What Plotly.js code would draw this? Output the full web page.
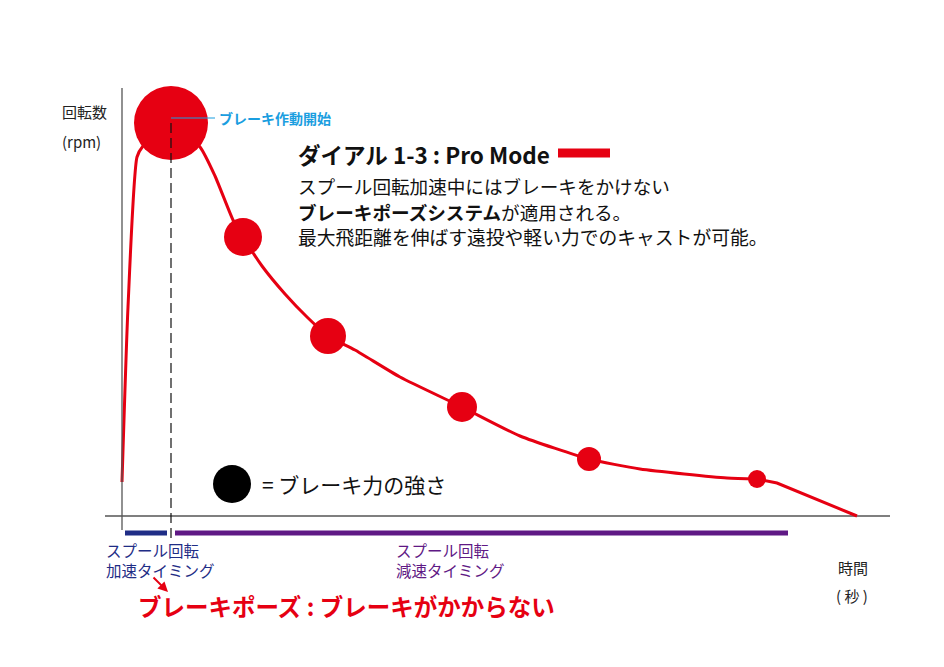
<!DOCTYPE html>
<html><head><meta charset="utf-8">
<script src="https://cdn.plot.ly/plotly-3.0.1.min.js"></script>
<style>html,body{margin:0;padding:0;background:#fff}</style>
</head><body>
<div id="chart" style="width:944px;height:667px"></div>
<script>
// Schematic: spool rotation (rpm) vs time (arbitrary units)
const curveTime = [0, 6, 15, 21, 49, 78, 93, 111, 121, 140, 163, 185, 206, 233, 278, 340, 398, 467, 518, 605, 635];
const curveRpm  = [34, 209, 359, 370, 393, 369, 340, 296, 279, 250, 222, 199, 180, 166, 139, 109, 80, 57, 47, 38, 37];
const tailTime  = [635, 655, 735];
const tailRpm   = [37, 33, 0];
const brakeTime  = [49, 121, 206, 340, 467, 635];
const brakeRpm   = [393, 279, 180, 109, 57, 37];
const brakeForce = [74, 38, 36, 30, 24, 18];
const brakeStart = 49;
const accelRange = [3, 45];
const decelRange = [53, 666];

const RED = '#e60012', BLUE = '#1f2d86', PURPLE = '#5f1985', CYAN = '#1a9ee0';
const FONT = '"Noto Sans CJK JP", "Noto Sans", sans-serif';

const traces = [
  {x: curveTime, y: curveRpm, mode: 'lines', line: {color: RED, width: 3, shape: 'spline', smoothing: 0.55}},
  {x: tailTime, y: tailRpm, mode: 'lines', line: {color: RED, width: 3}},
  {x: brakeTime, y: brakeRpm, mode: 'markers', opacity: 1, marker: {color: RED, opacity: 1, size: brakeForce, line: {width: 0}}},
  {x: [brakeStart, brakeStart], y: [brakeRpm[0], -26], mode: 'lines', line: {color: '#111', width: 1.2, dash: '10px,5px'}},
  {x: [brakeStart, 93], y: [398, 398], mode: 'lines', line: {color: CYAN, width: 1.2}},
  {x: accelRange, y: [-17, -17], mode: 'lines', line: {color: BLUE, width: 5}},
  {x: decelRange, y: [-17, -17], mode: 'lines', line: {color: PURPLE, width: 5}},
  {x: [110], y: [32], mode: 'markers', opacity: 1, marker: {color: '#000', opacity: 1, size: 38}}
];

function ann(x, y, text, size, color, extra) {
  return Object.assign({x: x, y: y, xref: 'x', yref: 'y', text: text, showarrow: false,
    xanchor: 'left', yanchor: 'middle', align: 'left', font: {family: FONT, size: size, color: color}}, extra || {});
}

const annotations = [
  ann(-62, 405, '回転数', 15, '#222'),
  ann(-62, 375, '(rpm)', 15, '#222'),
  ann(95, 398, '<b>ブレーキ作動開始</b>', 14, CYAN),
  ann(174, 362, '<b>ダイアル 1-3 : Pro Mode</b>', 22.5, '#111'),
  ann(174, 331, 'スプール回転加速中にはブレーキをかけない', 18.6, '#111'),
  ann(174, 305, '<b>ブレーキポーズシステム</b>が適用される。', 18.6, '#111'),
  ann(174, 280, '最大飛距離を伸ばす遠投や軽い力でのキャストが可能。', 18.8, '#111'),
  ann(138, 32, '= ブレーキ力の強さ', 21, '#111'),
  ann(-18, -44, 'スプール回転<br>加速タイミング', 15.5, BLUE),
  ann(272, -44, 'スプール回転<br>減速タイミング', 15.5, PURPLE),
  ann(714, -51, '時間', 15, '#222'),
  ann(712, -79, '( 秒 )', 15, '#222'),
  ann(14, -90, '<b>ブレーキポーズ : ブレーキがかからない</b>', 23.5, RED),
  {x: 46, y: -76, ax: 30, ay: -60, xref: 'x', yref: 'y', axref: 'x', ayref: 'y', text: '',
   showarrow: true, arrowhead: 2, arrowsize: 1, arrowwidth: 2, arrowcolor: RED, standoff: 0}
];

const shapes = [
  {type: 'line', x0: 0, x1: 0, y0: 428, y1: -14, line: {color: '#555', width: 1.3}},
  {type: 'line', x0: -17, x1: 768, y0: 0, y1: 0, line: {color: '#555', width: 1.5}, layer: 'below'},
  {type: 'line', x0: 436, x1: 488, y0: 363, y1: 363, line: {color: RED, width: 9}}
];

const layout = {
  width: 944, height: 667, margin: {l: 0, r: 0, t: 0, b: 0},
  paper_bgcolor: '#fff', plot_bgcolor: '#fff', showlegend: false,
  xaxis: {range: [-122, 822], visible: false, fixedrange: true},
  yaxis: {range: [-151, 516], visible: false, fixedrange: true},
  annotations: annotations, shapes: shapes, hovermode: false
};
Plotly.newPlot('chart', traces, layout, {staticPlot: true});
</script>
</body></html>
